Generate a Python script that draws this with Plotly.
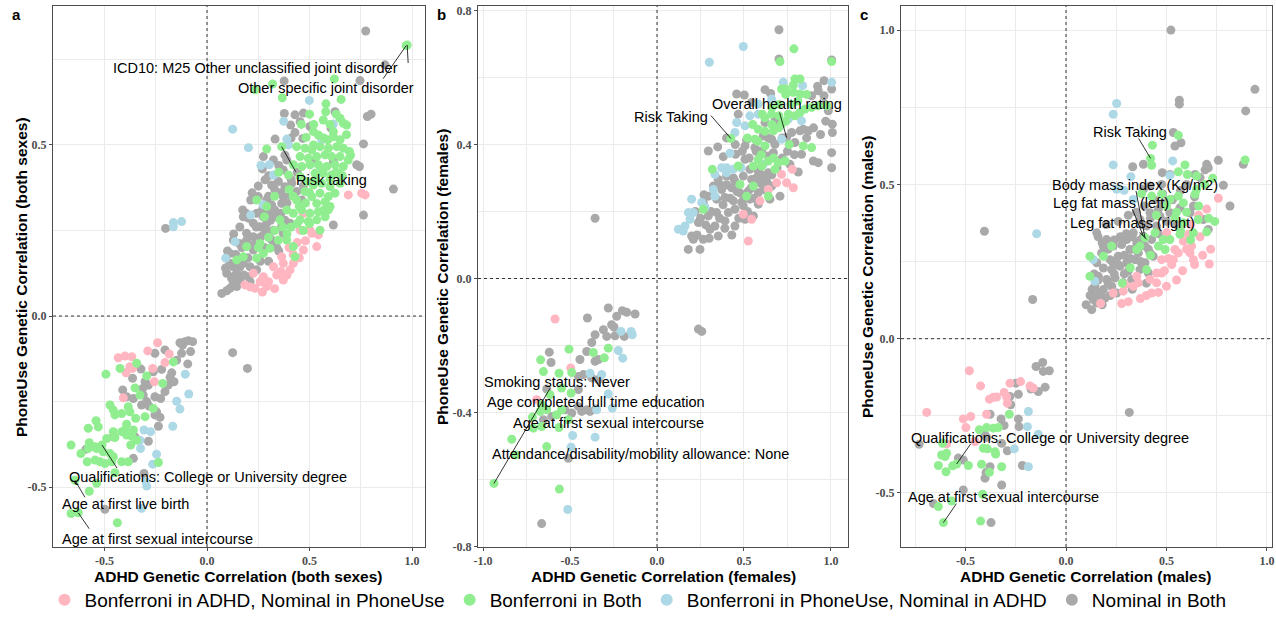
import plotly.graph_objects as go

# ---------------- categories ----------------
categories = ["Bonferroni in ADHD, Nominal in PhoneUse", "Bonferroni in Both",
              "Bonferroni in PhoneUse, Nominal in ADHD", "Nominal in Both"]
cat_colors = ["#FFB6C1", "#90EE90", "#ADD8E6", "#A9A9A9"]

# ---------------- panel a (both sexes): (ADHD rg, PhoneUse rg) ----------------
a_pink = [(0.689,0.354),(0.754,0.359),(0.771,0.354),(0.511,0.242),(0.454,0.251),(0.535,0.203),(0.470,0.193),
          (0.421,0.154),(0.405,0.135),(0.372,0.105),(0.340,0.120),(0.291,0.086),(0.234,0.081),(0.259,0.100),
          (0.324,0.144),(0.372,0.154),(0.364,0.173),(0.275,0.115),(0.185,0.091),(0.226,0.125),(0.502,0.251),
          (0.543,0.237),(0.470,0.300),(0.400,0.200),(0.440,0.215),(0.300,0.100),(0.330,0.080),(0.390,0.120),
          (0.450,0.170),(0.480,0.220),(0.420,0.180),(0.360,0.130),(0.270,0.070),(0.210,0.085),
          (-0.241,-0.078),(-0.289,-0.102),(-0.184,-0.111),(-0.433,-0.122),(-0.400,-0.117),(-0.367,-0.119),
          (-0.205,-0.136),(-0.363,-0.153),(-0.376,-0.148),(-0.395,-0.166),(-0.265,-0.153),(-0.257,-0.192),
          (-0.408,-0.239)]
a_green = [(0.976,0.792),(0.971,0.790),(0.621,0.693),(0.320,0.678),(0.234,0.661),(0.367,0.638),(0.654,0.633),
           (0.579,0.597),(0.649,0.578),(0.681,0.558),(0.665,0.563),(0.567,0.573),(0.543,0.529),(0.483,0.522),
           (0.589,0.515),(0.616,0.524),(0.649,0.515),(0.616,0.539),(0.519,0.539),(0.291,0.488),(0.364,0.495),
           (0.437,0.495),(0.478,0.490),(0.511,0.485),(0.551,0.495),(0.592,0.490),(0.633,0.495),(0.665,0.490),
           (0.694,0.481),(0.454,0.466),(0.494,0.461),(0.535,0.466),(0.576,0.471),(0.608,0.466),(0.649,0.466),
           (0.689,0.456),(0.421,0.442),(0.462,0.437),(0.502,0.442),(0.543,0.442),(0.584,0.437),(0.624,0.442),
           (0.665,0.437),(0.527,0.417),(0.567,0.417),(0.608,0.412),(0.641,0.417),
           (0.454,0.407),(0.486,0.393),(0.519,0.383),(0.559,0.388),(0.600,0.378),(0.624,0.359),(0.592,0.349),
           (0.551,0.359),(0.511,0.349),(0.478,0.364),(0.437,0.339),(0.535,0.329),(0.576,0.334),(0.242,0.339),
           (0.291,0.320),(0.397,0.412),(0.649,0.388),
           (0.389,0.310),(0.421,0.300),(0.462,0.310),(0.502,0.300),(0.543,0.305),(0.592,0.310),(0.454,0.281),
           (0.494,0.276),(0.535,0.281),(0.356,0.281),(0.389,0.222),(0.421,0.203),(0.429,0.173),(0.348,0.222),
           (0.307,0.198),(0.275,0.183),(0.242,0.169),(0.177,0.173),(0.145,0.164),(0.193,0.203),(0.259,0.212),
           (0.551,0.251),(0.576,0.290),(0.410,0.260),(0.330,0.350),(0.350,0.420),(0.400,0.370),
           (0.420,0.350),(0.450,0.320),(0.480,0.330),(0.500,0.360),(0.530,0.400),(0.560,0.430),(0.600,0.400),
           (0.630,0.420),(0.470,0.250),(0.500,0.270),(0.440,0.270),(0.370,0.260),(0.330,0.250),(0.300,0.230),
           (0.280,0.290),(0.520,0.500),(0.570,0.520),(0.600,0.560),(0.630,0.590),(0.580,0.620),(0.520,0.560),
           (0.460,0.560),(0.500,0.590),(0.680,0.530),(0.700,0.470),(0.660,0.410),(0.600,0.320),(0.570,0.310),
           (0.390,0.240),(0.250,0.200),
           (-0.164,-0.134),(-0.343,-0.138),(-0.424,-0.153),(-0.493,-0.170),(-0.294,-0.175),(-0.216,-0.197),
           (-0.351,-0.210),(-0.327,-0.231),(-0.473,-0.260),(-0.457,-0.275),(-0.449,-0.289),(-0.384,-0.265),
           (-0.376,-0.280),(-0.262,-0.270),(-0.416,-0.285),(-0.348,-0.299),(-0.302,-0.294),(-0.541,-0.306),
           (-0.579,-0.328),(-0.530,-0.324),(-0.392,-0.316),(-0.359,-0.333),(-0.400,-0.333),(-0.392,-0.348),
           (-0.367,-0.351),(-0.457,-0.338),(-0.416,-0.338),(-0.449,-0.355),(-0.489,-0.358),(-0.343,-0.363),
           (-0.372,-0.377),(-0.663,-0.377),(-0.574,-0.370),(-0.546,-0.382),(-0.512,-0.377),(-0.615,-0.402),
           (-0.579,-0.387),(-0.538,-0.387),(-0.506,-0.397),(-0.473,-0.402),(-0.457,-0.411),(-0.584,-0.426),
           (-0.546,-0.421),(-0.522,-0.426),(-0.498,-0.431),(-0.465,-0.426),(-0.416,-0.426),(-0.384,-0.426),
           (-0.237,-0.428),(-0.449,-0.458),(-0.644,-0.480),(-0.538,-0.489),(-0.574,-0.512),(-0.663,-0.577),
           (-0.628,-0.575),(-0.437,-0.604)]
a_blue = [(0.499,0.630),(0.374,0.569),(0.616,0.561),(0.389,0.517),(0.559,0.515),(0.125,0.546),(0.202,0.492),
          (0.397,0.500),(0.263,0.440),(0.304,0.442),(0.324,0.412),(0.275,0.325),(0.213,0.295),(0.137,0.217),
          (0.091,0.169),(-0.164,0.273),(-0.164,0.261),(-0.124,0.276),
          (-0.106,-0.170),(-0.148,-0.249),(-0.089,-0.228),(-0.132,-0.272),(-0.167,-0.322),(-0.307,-0.333),
          (-0.275,-0.338),(-0.327,-0.363),(-0.324,-0.387),(-0.246,-0.404),(-0.265,-0.433),(-0.298,-0.484),
          (-0.294,-0.497),(-0.319,-0.562)]
a_gray = [(0.774,0.833),(0.868,0.734),(0.746,0.688),(0.376,0.687),(0.800,0.590),(0.782,0.583),(0.624,0.597),
          (0.377,0.592),(0.429,0.588),(0.470,0.593),(0.454,0.568),(0.502,0.554),(0.408,0.558),(0.605,0.549),
          (0.332,0.517),(0.429,0.536),(0.467,0.519),(0.324,0.456),(0.275,0.466),(0.519,0.451),(0.616,0.451),
          (0.730,0.442),(0.743,0.437),(0.763,0.503),(0.389,0.456),(0.372,0.427),(0.909,0.371),(0.763,0.295),
          (0.616,0.266),(-0.202,0.256),
          (0.283,0.398),(0.315,0.383),(0.348,0.393),(0.380,0.378),(0.413,0.388),(0.340,0.359),(0.372,0.349),
          (0.405,0.354),(0.437,0.364),(0.213,0.339),(0.250,0.349),(0.291,0.339),(0.315,0.325),(0.364,0.329),
          (0.462,0.339),(0.174,0.310),(0.177,0.290),(0.202,0.286),(0.242,0.300),(0.275,0.290),(0.307,0.300),
          (0.340,0.290),(0.226,0.271),(0.259,0.261),(0.291,0.271),(0.324,0.251),(0.364,0.261),(0.405,0.271),
          (0.193,0.242),(0.226,0.232),(0.275,0.237),(0.307,0.227),(0.372,0.242),(0.158,0.212),(0.128,0.222),
          (0.112,0.154),(0.072,0.066),(0.096,0.074),(0.112,0.081),(0.128,0.096),(0.145,0.125),(0.161,0.144),
          (0.128,0.144),(0.177,0.154),(0.210,0.144),(0.161,0.105),(0.202,0.115),(0.128,0.115),(0.096,0.125),
          (0.145,0.086),(0.242,0.135),(0.112,0.183),(0.226,0.193),(0.193,0.222),(0.340,0.200),(0.300,0.160),
          (0.140,0.180),(0.170,0.200),(0.200,0.170),(0.230,0.210),(0.260,0.230),(0.240,0.260),(0.290,0.250),
          (0.310,0.280),(0.270,0.310),(0.330,0.310),(0.360,0.300),(0.300,0.350),(0.330,0.370),(0.360,0.360),
          (0.390,0.330),(0.250,0.380),(0.220,0.360),(0.190,0.300),(0.160,0.260),(0.130,0.240),(0.100,0.190),
          (0.090,0.140),(0.120,0.110),(0.150,0.150),(0.180,0.120),(0.210,0.100),(0.260,0.160),(0.280,0.200),
          (0.320,0.220),(0.350,0.190),(0.380,0.280),(0.410,0.400),(0.350,0.440),(0.300,0.410),(0.270,0.430),
          (0.440,0.420),(0.470,0.380),(0.380,0.470),(0.410,0.520),
          (-0.132,-0.078),(-0.107,-0.075),(-0.091,-0.072),(-0.070,-0.075),(-0.119,-0.085),(-0.124,-0.109),
          (-0.080,-0.104),(0.125,-0.107),(0.197,-0.153),(-0.205,-0.099),(-0.254,-0.109),(-0.148,-0.129),
          (-0.094,-0.140),(-0.322,-0.155),(-0.262,-0.163),(-0.221,-0.156),(-0.172,-0.166),(-0.180,-0.179),
          (-0.161,-0.192),(-0.189,-0.202),(-0.363,-0.182),(-0.302,-0.192),(-0.286,-0.202),(-0.205,-0.221),
          (-0.411,-0.216),(-0.314,-0.212),(-0.311,-0.231),(-0.392,-0.236),(-0.359,-0.241),(-0.226,-0.241),
          (-0.254,-0.236),(-0.319,-0.260),(-0.283,-0.263),(-0.246,-0.280),(-0.254,-0.289),(-0.229,-0.296),
          (-0.237,-0.322),(-0.457,-0.353),(-0.351,-0.353),(-0.286,-0.366),(-0.590,-0.389),(-0.359,-0.416),
          (-0.307,-0.460),(-0.498,-0.565),(-0.294,-0.250)]

# ---------------- panel b (females) ----------------
b_pink = [(0.778,0.326),(0.716,0.311),(0.745,0.286),(0.784,0.271),(0.688,0.286),(0.592,0.232),(0.640,0.266),
          (0.496,0.192),(0.544,0.177),(0.525,0.112),
          (-0.586,-0.121),(-0.496,-0.267),(-0.692,-0.362)]
b_green = [(0.787,0.686),(0.707,0.648),(1.004,0.648),(0.793,0.596),(0.822,0.596),(0.716,0.566),(0.739,0.566),
           (0.784,0.578),(0.784,0.556),(0.822,0.551),(0.851,0.506),(0.889,0.511),(0.927,0.516),(0.975,0.516),
           (0.822,0.496),(0.793,0.486),(0.605,0.491),(0.659,0.491),(0.701,0.486),(0.755,0.491),(0.716,0.461),
           (0.425,0.418),(0.563,0.416),(0.582,0.446),(0.669,0.441),(0.621,0.396),(0.841,0.396),(0.889,0.391),
           (0.697,0.346),(0.736,0.351),(0.582,0.356),(0.640,0.351),(0.554,0.336),(0.602,0.336),(0.678,0.326),
           (0.318,0.326),(0.467,0.336),(0.477,0.281),(0.515,0.246),(0.640,0.246),(0.266,0.207),(0.554,0.276),
           (0.580,0.410),(0.620,0.440),(0.660,0.460),(0.700,0.450),(0.740,0.470),(0.770,0.520),(0.810,0.530),
           (0.860,0.550),(0.740,0.550),(0.700,0.520),(0.660,0.510),(0.620,0.480),(0.550,0.460),(0.520,0.420),
           (0.600,0.370),(0.670,0.360),(0.760,0.400),
           (-0.506,-0.211),(-0.669,-0.243),(-0.366,-0.221),(-0.303,-0.237),(-0.280,-0.208),(-0.653,-0.278),
           (-0.563,-0.283),(-0.490,-0.281),(-0.548,-0.327),(-0.494,-0.342),(-0.615,-0.347),(-0.663,-0.377),
           (-0.634,-0.392),(-0.672,-0.397),(-0.716,-0.414),(-0.577,-0.407),(-0.548,-0.392),(-0.510,-0.422),
           (-0.711,-0.447),(-0.663,-0.442),(-0.563,-0.445),(-0.835,-0.480),(-0.634,-0.502),(-0.812,-0.527),
           (-0.937,-0.612),(-0.561,-0.629)]
b_blue = [(0.496,0.693),(0.301,0.646),(0.726,0.586),(1.004,0.586),(0.837,0.576),(0.659,0.536),(0.582,0.521),
          (0.534,0.486),(0.582,0.491),(0.755,0.476),(0.458,0.466),(0.506,0.456),(0.831,0.471),(0.448,0.436),
          (0.716,0.416),(0.420,0.374),(0.611,0.341),(0.333,0.311),(0.372,0.331),(0.400,0.331),(0.439,0.326),
          (0.483,0.331),(0.324,0.266),(0.333,0.246),(0.257,0.227),(0.199,0.237),(0.400,0.316),(0.180,0.197),
          (0.209,0.197),(0.123,0.147),(0.151,0.142),(0.161,0.157),(0.190,0.177),(0.276,0.212),
          (-0.207,-0.158),(-0.149,-0.158),(-0.142,-0.168),(-0.222,-0.215),(-0.197,-0.238),(-0.385,-0.283),
          (-0.318,-0.287),(-0.280,-0.345),(-0.257,-0.387),(-0.347,-0.392),(-0.485,-0.469),(-0.356,-0.474),
          (-0.494,-0.504),(-0.513,-0.690)]
b_gray = [(0.701,0.743),(0.701,0.656),(1.004,0.653),(0.960,0.591),(0.621,0.564),(0.923,0.574),(0.927,0.561),
          (1.004,0.566),(0.458,0.551),(0.502,0.548),(0.653,0.553),(0.889,0.546),(0.960,0.546),(0.985,0.501),
          (0.544,0.526),(0.966,0.521),(0.467,0.491),(0.621,0.466),(0.678,0.471),(1.008,0.461),(0.515,0.414),
          (0.611,0.426),(0.659,0.416),(0.678,0.401),(0.745,0.421),(0.774,0.436),(0.822,0.441),(0.870,0.441),
          (0.841,0.446),(1.008,0.436),(0.793,0.406),(0.349,0.393),(0.295,0.381),(0.452,0.371),(0.381,0.364),
          (0.506,0.396),(0.563,0.391),(0.602,0.381),(0.640,0.366),(0.669,0.376),(0.831,0.371),(0.899,0.351),
          (0.927,0.346),(1.004,0.376),(1.004,0.331),(0.812,0.318),(0.764,0.341),(0.506,0.356),(0.534,0.326),
          (0.640,0.316),(0.582,0.321),(0.707,0.246),(0.352,0.296),(0.400,0.306),(0.448,0.291),(0.496,0.306),
          (0.544,0.296),(0.592,0.286),(0.621,0.296),(0.659,0.276),(0.324,0.276),(0.372,0.266),(0.429,0.271),
          (0.477,0.256),(0.525,0.261),(0.582,0.256),(0.611,0.266),(0.295,0.246),(0.343,0.237),(0.391,0.242),
          (0.439,0.232),(0.487,0.227),(0.534,0.237),(0.582,0.222),(0.266,0.227),(0.649,0.237),(0.238,0.167),
          (0.295,0.187),(0.343,0.197),(0.391,0.172),(0.448,0.157),(0.506,0.177),(0.554,0.187),(0.209,0.117),
          (0.266,0.117),(0.305,0.147),(0.352,0.127),(0.180,0.087),(0.247,0.087),(0.199,0.127),(0.448,0.207),
          (0.496,0.217),(0.410,0.197),(0.333,0.157),(-0.356,0.180),
          (0.220,0.200),(0.250,0.180),(0.280,0.160),(0.310,0.200),(0.360,0.180),(0.380,0.220),(0.420,0.240),
          (0.460,0.260),(0.500,0.240),(0.540,0.270),(0.570,0.300),(0.600,0.310),(0.630,0.290),(0.660,0.310),
          (0.690,0.330),(0.360,0.280),(0.400,0.280),(0.440,0.300),(0.470,0.180),(0.520,0.200),(0.560,0.240),
          (0.430,0.130),(0.390,0.150),(0.300,0.120),(0.230,0.130),(0.270,0.250),(0.720,0.360),(0.750,0.380),
          (0.790,0.370),(0.860,0.420),(0.900,0.450),(0.940,0.430),(0.970,0.470),(0.720,0.420),(0.640,0.420),
          (0.570,0.380),(0.530,0.360),(0.490,0.380),(0.450,0.400),(0.400,0.420),
          (0.238,-0.151),(0.257,-0.158),(-0.400,-0.118),(-0.280,-0.088),(-0.232,-0.113),(-0.199,-0.096),
          (-0.174,-0.101),(-0.126,-0.106),(-0.308,-0.153),(-0.261,-0.138),(-0.247,-0.145),(-0.356,-0.168),
          (-0.375,-0.191),(-0.289,-0.173),(-0.241,-0.171),(-0.188,-0.173),(-0.619,-0.220),(-0.609,-0.251),
          (-0.443,-0.242),(-0.404,-0.218),(-0.356,-0.247),(-0.337,-0.242),(-0.452,-0.293),(-0.423,-0.287),
          (-0.375,-0.297),(-0.337,-0.302),(-0.634,-0.330),(-0.452,-0.332),(-0.529,-0.392),(-0.490,-0.402),
          (-0.452,-0.382),(-0.433,-0.397),(-0.404,-0.392),(-0.385,-0.397),(-0.352,-0.390),(-0.653,-0.422),
          (-0.605,-0.412),(-0.510,-0.537),(-0.663,-0.732)]

# ---------------- panel c (males) ----------------
c_pink = [(0.758,0.455),(0.667,0.330),(0.609,0.338),(0.584,0.316),(0.625,0.300),(0.542,0.289),(0.559,0.278),
          (0.534,0.256),(0.526,0.240),(0.617,0.278),(0.634,0.256),(0.713,0.242),(0.476,0.256),(0.451,0.213),
          (0.476,0.213),(0.451,0.181),(0.418,0.192),(0.426,0.148),(0.352,0.202),(0.360,0.181),(0.335,0.170),
          (0.294,0.175),(0.285,0.154),(0.235,0.148),(0.501,0.343),(0.172,0.114),(0.277,0.114),
          (0.620,0.370),(0.660,0.400),(0.700,0.420),(0.720,0.290),(0.680,0.270),(0.640,0.240),(0.580,0.220),
          (0.550,0.190),(0.500,0.170),(0.460,0.150),(0.400,0.140),(0.310,0.120),(0.370,0.130),(0.600,0.290),
          (0.510,0.260),(0.490,0.220),
          (-0.481,-0.104),(-0.425,-0.153),(-0.279,-0.144),(-0.226,-0.139),(-0.179,-0.153),(-0.163,-0.160),
          (-0.308,-0.174),(-0.295,-0.189),(-0.381,-0.196),(-0.362,-0.190),(-0.345,-0.189),(-0.292,-0.209),
          (-0.693,-0.239),(-0.511,-0.260),(-0.474,-0.252),(-0.498,-0.288),(-0.395,-0.245),(-0.594,-0.341),
          (-0.453,-0.333)]
c_green = [(0.559,0.659),(0.430,0.627),(0.421,0.584),(0.426,0.562),(0.891,0.579),(0.592,0.563),(0.559,0.541),
           (0.604,0.532),(0.650,0.527),(0.376,0.470),(0.426,0.462),(0.476,0.468),(0.517,0.451),(0.559,0.462),
           (0.584,0.440),(0.642,0.468),(0.650,0.484),(0.700,0.346),(0.658,0.386),(0.567,0.338),(0.517,0.321),
           (0.484,0.321),(0.493,0.289),(0.584,0.376),(0.542,0.392),(0.393,0.327),(0.352,0.289),(0.401,0.224),
           (0.119,0.267),(0.186,0.267),(0.119,0.202),(0.227,0.300),(0.368,0.300),(0.443,0.343),(0.634,0.343),
           (0.450,0.400),(0.500,0.430),(0.550,0.410),(0.600,0.410),(0.660,0.430),(0.710,0.390),(0.740,0.380),
           (0.620,0.320),(0.570,0.350),(0.460,0.300),(0.420,0.270),(0.320,0.230),(0.280,0.180),(0.690,0.500),
           (0.730,0.520),
           (-0.282,-0.245),(-0.395,-0.288),(-0.431,-0.295),(-0.362,-0.290),(-0.337,-0.288),(-0.411,-0.355),
           (-0.391,-0.357),(-0.353,-0.366),(-0.350,-0.374),(-0.614,-0.339),(-0.619,-0.377),(-0.594,-0.371),
           (-0.602,-0.382),(-0.635,-0.411),(-0.597,-0.431),(-0.564,-0.412),(-0.544,-0.406),(-0.486,-0.411),
           (-0.420,-0.407),(-0.381,-0.433),(-0.320,-0.415),(-0.569,-0.526),(-0.635,-0.544),(-0.610,-0.596),
           (-0.425,-0.591),(-0.415,-0.504)]
c_blue = [(0.252,0.762),(0.235,0.727),(0.235,0.563),(0.531,0.576),(0.323,0.525),(0.517,0.529),(0.252,0.484),
          (0.289,0.481),(0.335,0.451),(-0.146,0.340),(0.136,0.256),(0.144,0.186),
          (-0.187,-0.236),(-0.192,-0.285),(-0.138,-0.310),(-0.257,-0.357),(-0.187,-0.415)]
c_gray = [(0.522,1.000),(0.940,0.808),(0.564,0.773),(0.564,0.760),(0.894,0.738),(0.534,0.668),(0.572,0.635),
          (0.542,0.624),(0.385,0.565),(0.332,0.557),(0.882,0.565),(0.758,0.578),(0.700,0.565),(0.708,0.554),
          (0.692,0.547),(0.479,0.538),(0.517,0.532),(0.642,0.532),(0.667,0.522),(0.783,0.497),(0.816,0.430),
          (0.385,0.484),(0.418,0.495),(0.476,0.500),(-0.406,0.348),(-0.166,0.127),
          (0.517,0.408),(0.567,0.424),(0.617,0.408),(0.708,0.354),(0.468,0.397),(0.418,0.408),(0.368,0.386),
          (0.401,0.365),(0.451,0.365),(0.335,0.343),(0.385,0.332),(0.426,0.321),(0.302,0.321),(0.352,0.311),
          (0.393,0.300),(0.202,0.321),(0.235,0.300),(0.277,0.305),(0.318,0.289),(0.360,0.278),(0.418,0.278),
          (0.177,0.278),(0.219,0.256),(0.260,0.267),(0.302,0.246),(0.343,0.256),(0.393,0.246),(0.434,0.267),
          (0.153,0.246),(0.186,0.229),(0.227,0.224),(0.269,0.235),(0.310,0.219),(0.368,0.224),(0.410,0.213),
          (0.161,0.202),(0.202,0.192),(0.244,0.197),(0.285,0.181),(0.327,0.192),(0.144,0.170),(0.186,0.159),
          (0.227,0.170),(0.252,0.148),(0.153,0.137),(0.194,0.132),(0.136,0.127),(0.153,0.343),(0.186,0.300),
          (0.634,0.430),(0.683,0.386),(0.484,0.440),(0.128,0.094),(0.153,0.116),
          (0.130,0.160),(0.160,0.190),(0.170,0.150),(0.210,0.180),(0.240,0.210),(0.230,0.250),(0.260,0.240),
          (0.290,0.270),(0.320,0.260),(0.340,0.290),(0.370,0.320),(0.330,0.330),(0.300,0.340),(0.270,0.330),
          (0.240,0.320),(0.210,0.290),(0.180,0.310),(0.160,0.330),(0.200,0.370),(0.260,0.380),(0.310,0.400),
          (0.350,0.410),(0.390,0.430),(0.440,0.450),(0.460,0.420),(0.420,0.390),(0.380,0.370),(0.460,0.340),
          (0.410,0.290),(0.370,0.250),(0.400,0.180),(0.330,0.160),(0.290,0.210),(0.140,0.210),(0.120,0.140),
          (0.100,0.110),(0.180,0.110),(0.220,0.140),(0.480,0.470),(0.530,0.450),(0.570,0.480),(0.600,0.500),
          (0.640,0.460),(0.550,0.370),(0.500,0.380),
          (-0.116,-0.077),(-0.149,-0.090),(-0.113,-0.106),(-0.083,-0.104),(-0.249,-0.144),(-0.174,-0.163),
          (-0.138,-0.171),(-0.104,-0.157),(-0.279,-0.187),(-0.237,-0.180),(-0.275,-0.214),(0.315,-0.239),
          (-0.378,-0.245),(-0.323,-0.260),(-0.308,-0.281),(-0.237,-0.260),(-0.234,-0.285),(-0.731,-0.342),
          (-0.403,-0.312),(-0.395,-0.320),(-0.320,-0.339),(-0.292,-0.363),(-0.536,-0.387),(-0.511,-0.393),
          (-0.378,-0.415),(-0.398,-0.434),(-0.403,-0.452),(-0.320,-0.474),(-0.217,-0.411),(-0.511,-0.490),
          (-0.660,-0.534),(-0.373,-0.596)]

# ------- labelled traits: (text, x, y, text dx px, text dy px, segment end dx px, dy px or None) -------
a_labels = [("ICD10: M25 Other unclassified joint disorder", 0.976, 0.792, -152, 23, (1, 18)),
            ("Other specific joint disorder", 0.971, 0.790, -80, 42, (-23, 33)),
            ("Risk taking", 0.364, 0.495, 50, 33, (14, 25)),
            ("Qualifications: College or University degree", -0.512, -0.377, 106, 32, (15, 23)),
            ("Age at first live birth", -0.644, -0.480, 51, 24, (10, 17)),
            ("Age at first sexual intercourse", -0.628, -0.575, 79, 26, (11, 16))]
b_labels = [("Risk Taking", 0.425, 0.418, -60, -22, (-20, -23)),
            ("Overall health rating", 0.745, 0.421, -10, -34, (-7, -25)),
            ("Smoking status: Never", -0.937, -0.612, 63, -101, (56, -95)),
            ("Age completed full time education", -0.663, -0.377, 54, -3, None),
            ("Age at first sexual intercourse", -0.716, -0.414, 76, 6, None),
            ("Attendance/disability/mobility allowance: None", -0.835, -0.480, 129, 15, None)]
c_labels = [("Risk Taking", 0.421, 0.584, -21, -26, (-12, -20)),
            ("Body mass index (Kg/m2)", 0.393, 0.327, -10, -53, (-9, -47)),
            ("Leg fat mass (left)", 0.385, 0.332, -32, -33, (-11, -27)),
            ("Leg fat mass (right)", 0.401, 0.322, -14, -16, (-7, -7)),
            ("Qualifications: College or University degree", -0.544, -0.406, 93, -26, (14, -20)),
            ("Age at first sexual intercourse", -0.610, -0.596, 60, -26, (13, -19))]

# ---------------- axes ----------------
x_titles = ["ADHD Genetic Correlation (both sexes)", "ADHD Genetic Correlation (females)",
            "ADHD Genetic Correlation (males)"]
y_titles = ["PhoneUse Genetic Correlation (both sexes)", "PhoneUse Genetic Correlation (females)",
            "PhoneUse Genetic Correlation (males)"]
panel_tags = ["a", "b", "c"]
x_ranges = [[-0.751, 1.063], [-1.029, 1.098], [-0.821, 1.025]]
y_ranges = [[-0.675, 0.906], [-0.802, 0.814], [-0.675, 1.078]]
x_tickvals = [[-0.5, 0.0, 0.5, 1.0], [-1.0, -0.5, 0.0, 0.5, 1.0], [-0.5, 0.0, 0.5, 1.0]]
x_ticktext = [["-0.5", "0.0", "0.5", "1.0"], ["-1.0", "-0.5", "0.0", "0.5", "1.0"], ["-0.5", "0.0", "0.5", "1.0"]]
y_tickvals = [[-0.5, 0.0, 0.5], [-0.8, -0.4, 0.0, 0.4, 0.8], [-0.5, 0.0, 0.5, 1.0]]
y_ticktext = [["-0.5", "0.0", "0.5"], ["-0.8", "-0.4", "0.0", "0.4", "0.8"], ["-0.5", "0.0", "0.5", "1.0"]]
x_minor = [0.25, 0.25, 0.25]
y_minor = [0.25, 0.2, 0.25]

W, H = 1276, 619
x_domains = [[53 / W, 425 / W], [478 / W, 848 / W], [901 / W, 1272 / W]]
y_domain = [1 - 547 / H, 1 - 6 / H]
x_title_pos = [238 / W, 663 / W, 1086 / W]
y_title_pos = [22 / W, 443 / W, 868 / W]
tag_pos = [16 / W, 441 / W, 864 / W]

SANS = "Liberation Sans, Arial, sans-serif"
SERIF = "Liberation Serif, Times New Roman, serif"

panels = [(a_pink, a_green, a_blue, a_gray, a_labels),
          (b_pink, b_green, b_blue, b_gray, b_labels),
          (c_pink, c_green, c_blue, c_gray, c_labels)]

fig = go.Figure()
annotations = []
shapes = []
draw_order = [3, 0, 2, 1]  # gray underneath, then pink, blue, green

for p, (pk, gr, bl, gy, labels) in enumerate(panels):
    sets = [pk, gr, bl, gy]
    xa = "x" if p == 0 else f"x{p + 1}"
    ya = "y" if p == 0 else f"y{p + 1}"
    for ci in draw_order:
        pts = sets[ci]
        fig.add_trace(go.Scatter(
            x=[q[0] for q in pts], y=[q[1] for q in pts], mode="markers",
            marker=dict(color=cat_colors[ci], size=9, line=dict(width=0)),
            name=categories[ci], legendgroup=categories[ci], showlegend=(p == 0),
            legendrank=ci + 1, xaxis=xa, yaxis=ya, hoverinfo="skip"))
    axkey = "" if p == 0 else str(p + 1)
    common = dict(showline=True, mirror=True, linecolor="#4d4d4d", linewidth=1,
                  showgrid=True, gridcolor="#EBEBEB", gridwidth=1, zeroline=False,
                  ticks="outside", ticklen=3, tickcolor="#4d4d4d", automargin=False,
                  tickfont=dict(family=SERIF, size=12, color="#4d4d4d", weight="bold"))
    fig.update_layout(**{
        "xaxis" + axkey: dict(domain=x_domains[p], range=x_ranges[p], tickvals=x_tickvals[p],
                              ticktext=x_ticktext[p], anchor=ya,
                              minor=dict(dtick=x_minor[p], tick0=0, showgrid=True, gridcolor="#EBEBEB", ticks=""),
                              **common),
        "yaxis" + axkey: dict(domain=y_domain, range=y_ranges[p], tickvals=y_tickvals[p],
                              ticktext=y_ticktext[p], anchor=xa,
                              minor=dict(dtick=y_minor[p], tick0=0, showgrid=True, gridcolor="#EBEBEB", ticks=""),
                              **common)})
    # reference lines at zero
    shapes.append(dict(type="line", xref=xa, yref=f"{ya} domain", x0=0, x1=0, y0=0, y1=1,
                       line=dict(color="#333333", width=1, dash="3px,3px")))
    shapes.append(dict(type="line", xref=f"{xa} domain", yref=ya, x0=0, x1=1, y0=0, y1=0,
                       line=dict(color="#333333", width=1, dash="3px,3px")))
    # labels for traits (text + connector segment)
    for (txt, lx, ly, tdx, tdy, seg) in labels:
        annotations.append(dict(text=txt, x=lx, y=ly, xref=xa, yref=ya, showarrow=False,
                                xanchor="center", yanchor="middle", xshift=tdx, yshift=-tdy,
                                font=dict(family=SANS, size=14.5, color="#000000")))
        if seg is not None:
            shapes.append(dict(type="line", xref=xa, yref=ya, xsizemode="pixel", ysizemode="pixel",
                               xanchor=lx, yanchor=ly, x0=0, y0=0, x1=seg[0], y1=-seg[1],
                               line=dict(color="#000000", width=0.8)))
    # axis titles and panel tags
    annotations.append(dict(text=f"<b>{x_titles[p]}</b>", x=x_title_pos[p], y=1 - 576 / H,
                            xref="paper", yref="paper", showarrow=False, xanchor="center", yanchor="middle",
                            font=dict(family=SANS, size=15.5, color="#000000")))
    annotations.append(dict(text=f"<b>{y_titles[p]}</b>", x=y_title_pos[p], y=1 - 277 / H,
                            xref="paper", yref="paper", showarrow=False, textangle=-90,
                            xanchor="center", yanchor="middle",
                            font=dict(family=SANS, size=15.5, color="#000000")))
    annotations.append(dict(text=f"<b>{panel_tags[p]}</b>", x=tag_pos[p], y=1 - 15 / H,
                            xref="paper", yref="paper", showarrow=False, xanchor="center", yanchor="middle",
                            font=dict(family=SANS, size=15, color="#000000")))

fig.update_layout(
    width=W, height=H, margin=dict(l=0, r=0, t=0, b=0, pad=0, autoexpand=False),
    paper_bgcolor="white", plot_bgcolor="white",
    annotations=annotations, shapes=shapes,
    legend=dict(orientation="h", x=0.5, xanchor="center", y=0, yanchor="bottom",
                font=dict(family=SANS, size=19, color="#000000"), itemsizing="constant",
                bgcolor="rgba(0,0,0,0)", tracegroupgap=0, itemwidth=30),
    font=dict(family=SANS),
)

fig.write_html("out.html")
